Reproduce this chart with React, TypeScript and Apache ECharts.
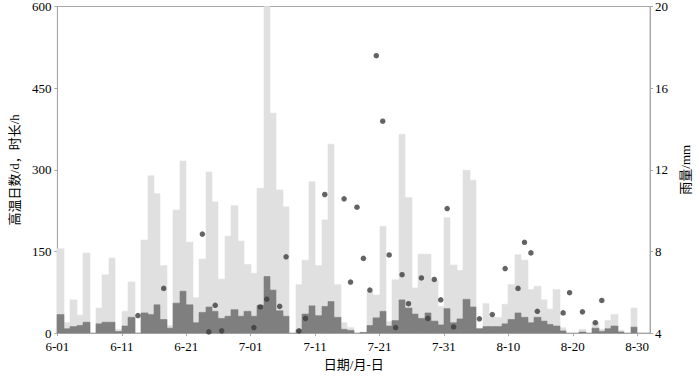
import React, { useEffect, useRef } from "react";
import * as echarts from "echarts";

// Day index 0 = 6-01 ... 91 = 8-31
const tickLabels = ["6-01", "6-11", "6-21", "7-01", "7-11", "7-21", "7-31", "8-10", "8-20", "8-30"];

// light grey bars (left axis)
const lightValues = [
  155, 19, 61, 33, 147, 0, 46, 107, 138, 7, 40, 94, 0, 171, 289, 256, 124, 14, 226, 316, 167, 65, 136, 296,
  241, 99, 178, 234, 169, 126, 110, 266, 600, 404, 263, 232, 0, 89, 134, 278, 124, 208, 347, 89, 19, 10, 0, 2,
  77, 70, 196, 21, 98, 365, 249, 83, 145, 145, 97, 49, 212, 125, 115, 299, 281, 9, 54, 29, 29, 53, 89, 144,
  134, 80, 86, 61, 44, 80, 10, 0, 0, 7, 0, 20, 7, 23, 34, 5, 0, 46, 0, 0,
];

// dark grey bars (left axis)
const darkValues = [
  34, 8, 12, 14, 20, 0, 17, 20, 20, 3, 13, 29, 0, 37, 34, 52, 25, 9, 55, 77, 52, 19, 38, 48,
  40, 27, 31, 43, 31, 40, 31, 51, 104, 79, 41, 31, 0, 6, 35, 50, 32, 49, 58, 29, 7, 5, 0, 1,
  14, 28, 40, 13, 23, 61, 46, 35, 27, 37, 22, 15, 45, 19, 26, 62, 48, 8, 12, 12, 12, 17, 25, 37,
  29, 19, 29, 22, 16, 13, 4, 0, 0, 2, 0, 9, 3, 8, 13, 2, 0, 11, 0, 0,
];

// rainfall dots (right axis)
const rainDays = [
  12, 16, 22, 23, 24, 25, 30, 31, 32, 34, 35, 37, 38, 41, 44, 45, 46, 47, 48, 49, 50, 51, 52, 53, 54,
  56, 57, 58, 59, 60, 61, 65, 67, 69, 71, 72, 73, 74, 78, 79, 81, 83, 84,
];
const rainValues = [
  4.86, 6.19, 8.85, 4.06, 5.36, 4.11, 4.27, 5.28, 5.66, 5.31, 7.74, 4.11, 4.72, 10.79, 10.58, 6.5, 10.17, 7.66, 6.11, 17.59, 14.38, 7.83, 4.27, 6.86, 5.44,
  6.7, 4.72, 6.63, 5.63, 10.1, 4.3, 4.7, 4.91, 7.16, 6.19, 8.45, 7.93, 5.07, 4.99, 5.98, 5.04, 4.51, 5.6,
];

const FONT = "'Liberation Serif', 'Times New Roman', 'Noto Sans CJK SC', serif";
const AXIS_COLOR = "#a6a6a6";

function barRenderer(color: string) {
  return (params: any, api: any) => {
    const i = api.value(0);
    const v = api.value(1);
    if (!v) return null;
    const p0 = api.coord([i, 0]);
    const p1 = api.coord([i + 1, v]);
    const x0 = Math.round(p0[0]);
    const x1 = Math.round(p1[0]);
    return {
      type: "rect",
      shape: { x: x0, y: p1[1], width: x1 - x0, height: p0[1] - p1[1] },
      style: { fill: color, stroke: color, lineWidth: 0.6 },
    };
  };
}

export default function App() {
  const ref = useRef<HTMLDivElement>(null);
  useEffect(() => {
    if (!ref.current) return;
    const chart = echarts.init(ref.current, null, { renderer: "svg" });
    chart.setOption({
      animation: false,
      backgroundColor: "#ffffff",
      textStyle: { fontFamily: FONT },
      grid: {
        left: 50,
        right: 35,
        top: 5,
        bottom: 37,
        show: true,
        borderColor: AXIS_COLOR,
        borderWidth: 1,
        backgroundColor: "transparent",
      },
      xAxis: {
        type: "value",
        min: 0,
        max: 92,
        interval: 10,
        name: "日期/月-日",
        nameLocation: "middle",
        nameGap: 22,
        nameTextStyle: { fontFamily: FONT, fontSize: 13, color: "#000" },
        axisLine: { show: true, lineStyle: { color: AXIS_COLOR, width: 1 } },
        axisTick: { show: true, length: 3, lineStyle: { color: AXIS_COLOR } },
        splitLine: { show: false },
        axisLabel: {
          margin: 7,
          fontFamily: FONT,
          fontSize: 13,
          color: "#000",
          showMaxLabel: false,
          formatter: (v: number) => (v % 10 === 0 && tickLabels[v / 10] ? tickLabels[v / 10] : ""),
        },
      },
      yAxis: [
        {
          type: "value",
          min: 0,
          max: 600,
          interval: 150,
          name: "高温日数/d，时长/h",
          nameLocation: "middle",
          nameRotate: 90,
          nameGap: 34,
          nameTextStyle: { fontFamily: FONT, fontSize: 13, color: "#000" },
          axisLine: { show: true, lineStyle: { color: AXIS_COLOR, width: 1 } },
          axisTick: { show: true, length: 3, lineStyle: { color: AXIS_COLOR } },
          splitLine: { show: false },
          axisLabel: { margin: 6, fontFamily: FONT, fontSize: 13, color: "#000", verticalAlign: "middle" },
        },
        {
          type: "value",
          min: 4,
          max: 20,
          interval: 4,
          position: "right",
          name: "雨量/mm",
          nameLocation: "middle",
          nameRotate: 90,
          nameGap: 20,
          nameTextStyle: { fontFamily: FONT, fontSize: 13, color: "#000" },
          axisLine: { show: true, lineStyle: { color: AXIS_COLOR, width: 1 } },
          axisTick: { show: true, length: 3, lineStyle: { color: AXIS_COLOR } },
          splitLine: { show: false },
          axisLabel: { margin: 5, fontFamily: FONT, fontSize: 13, color: "#000" },
        },
      ],
      series: [
        {
          name: "light",
          type: "custom",
          xAxisIndex: 0,
          yAxisIndex: 0,
          renderItem: barRenderer("#e0e0e0"),
          encode: { x: 0, y: 1 },
          data: lightValues.map((v, i) => [i, v]),
          z: 1,
        },
        {
          name: "dark",
          type: "custom",
          xAxisIndex: 0,
          yAxisIndex: 0,
          renderItem: barRenderer("#7f7f7f"),
          encode: { x: 0, y: 1 },
          data: darkValues.map((v, i) => [i, v]),
          z: 2,
        },
        {
          name: "rain",
          type: "scatter",
          xAxisIndex: 0,
          yAxisIndex: 1,
          symbol: "circle",
          symbolSize: 5.5,
          itemStyle: { color: "#3c3c3c" },
          data: rainDays.map((d, k) => [d + 0.5, rainValues[k]]),
          z: 3,
        },
      ],
    });
    return () => chart.dispose();
  }, []);
  return <div ref={ref} style={{ width: 700, height: 376, position: "absolute", left: 0, top: 0 }} />;
}
